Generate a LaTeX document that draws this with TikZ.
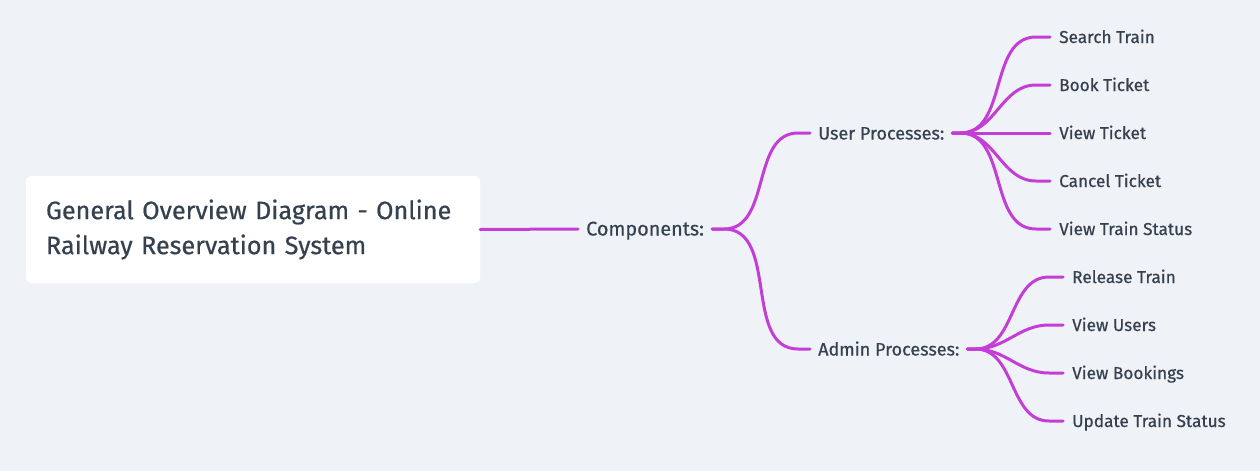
\documentclass[tikz,border=0pt]{standalone}
\usepackage{fontspec}
\setmainfont{Fira Sans}[UprightFeatures={FakeBold=0.6}]
\usetikzlibrary{positioning}
\definecolor{bgcol}{HTML}{EFF3F7}
\definecolor{txtcol}{HTML}{36414F}
\definecolor{linkcol}{HTML}{C43DD6}
\tikzset{
  root/.style={
    rectangle,
    rounded corners=5pt,
    fill=white,
    minimum width=454pt,
    minimum height=107pt,
    text width=414pt,
    inner xsep=20pt,
    align=left,
    text=txtcol,
    font=\fontsize{25.2}{35}\selectfont
  },
  topic/.style={
    anchor=west,
    inner xsep=8pt,
    inner ysep=0pt,
    text height=13pt,
    text depth=0pt,
    text=txtcol,
    font=\fontsize{18}{20}\selectfont
  },
  leaf/.style={
    anchor=west,
    inner xsep=9pt,
    inner ysep=0pt,
    text height=12pt,
    text depth=0pt,
    text=txtcol,
    font=\fontsize{17.2}{18}\selectfont
  },
  link/.style={linkcol, line width=3pt, line cap=round}
}

\begin{document}
\begin{tikzpicture}[x=1pt, y=-1pt]
  \useasboundingbox[fill=bgcol] (0,0) rectangle (1260,471);
  \node (root) [root] at (253,229.5) {General Overview Diagram - Online\\Railway Reservation System};
  \node (comp) [topic, font=\fontsize{19.8}{20}\selectfont] at (578,229) {Components:};
  \node (user) [topic] at (810,133) {User Processes:};
  \node (admin) [topic] at (810,349) {Admin Processes:};
  \draw[link] (root.east) -- (comp.west);
  \foreach \sub in {user, admin}
    \draw[link] (comp.east) -- ++(12,0) to[out=0,in=180] ([xshift=-12pt]\sub.west) -- (\sub.west);
  % user leaves
  \foreach \name/\yy [count=\i] in {Search Train/37, Book Ticket/85, View Ticket/133, Cancel Ticket/181, View Train Status/229} {
    \node (u\i) [leaf] at (1050,\yy) {\name};
    \draw[link] (user.east) -- ++(8,0) to[out=0,in=180] ([xshift=-14pt]u\i.west) -- (u\i.west);
  }
  % admin leaves
  \foreach \name/\yy [count=\i] in {Release Train/277, View Users/325, View Bookings/373, Update Train Status/421} {
    \node (a\i) [leaf] at (1063,\yy) {\name};
    \draw[link] (admin.east) -- ++(8,0) to[out=0,in=180] ([xshift=-14pt]a\i.west) -- (a\i.west);
  }
\end{tikzpicture}
\end{document}
